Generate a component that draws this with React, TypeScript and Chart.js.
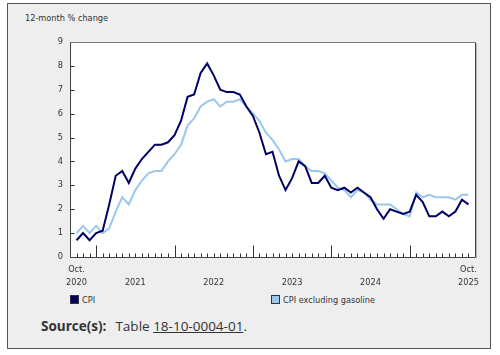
import React, { useEffect, useRef } from 'react';
import { Chart, registerables } from 'chart.js';

Chart.register(...registerables);

// ---- Data ----
const months: string[] = [
  'Oct 2020', 'Nov 2020', 'Dec 2020',
  'Jan 2021', 'Feb 2021', 'Mar 2021', 'Apr 2021', 'May 2021', 'Jun 2021', 'Jul 2021', 'Aug 2021', 'Sep 2021', 'Oct 2021', 'Nov 2021', 'Dec 2021',
  'Jan 2022', 'Feb 2022', 'Mar 2022', 'Apr 2022', 'May 2022', 'Jun 2022', 'Jul 2022', 'Aug 2022', 'Sep 2022', 'Oct 2022', 'Nov 2022', 'Dec 2022',
  'Jan 2023', 'Feb 2023', 'Mar 2023', 'Apr 2023', 'May 2023', 'Jun 2023', 'Jul 2023', 'Aug 2023', 'Sep 2023', 'Oct 2023', 'Nov 2023', 'Dec 2023',
  'Jan 2024', 'Feb 2024', 'Mar 2024', 'Apr 2024', 'May 2024', 'Jun 2024', 'Jul 2024', 'Aug 2024', 'Sep 2024', 'Oct 2024', 'Nov 2024', 'Dec 2024',
  'Jan 2025', 'Feb 2025', 'Mar 2025', 'Apr 2025', 'May 2025', 'Jun 2025', 'Jul 2025', 'Aug 2025', 'Sep 2025', 'Oct 2025',
];

const cpi: number[] = [
  0.7, 1.0, 0.7,
  1.0, 1.1, 2.2, 3.4, 3.6, 3.1, 3.7, 4.1, 4.4, 4.7, 4.7, 4.8,
  5.1, 5.7, 6.7, 6.8, 7.7, 8.1, 7.6, 7.0, 6.9, 6.9, 6.8, 6.3,
  5.9, 5.2, 4.3, 4.4, 3.4, 2.8, 3.3, 4.0, 3.8, 3.1, 3.1, 3.4,
  2.9, 2.8, 2.9, 2.7, 2.9, 2.7, 2.5, 2.0, 1.6, 2.0, 1.9, 1.8,
  1.9, 2.6, 2.3, 1.7, 1.7, 1.9, 1.7, 1.9, 2.4, 2.2,
];

const cpiExGasoline: number[] = [
  1.0, 1.3, 1.0,
  1.3, 1.0, 1.2, 1.9, 2.5, 2.2, 2.8, 3.2, 3.5, 3.6, 3.6, 4.0,
  4.3, 4.7, 5.5, 5.8, 6.3, 6.5, 6.6, 6.3, 6.5, 6.5, 6.6, 6.3,
  6.0, 5.7, 5.2, 4.9, 4.5, 4.0, 4.1, 4.1, 3.8, 3.6, 3.6, 3.5,
  3.2, 2.9, 2.8, 2.5, 2.8, 2.7, 2.4, 2.2, 2.2, 2.2, 2.0, 1.8,
  1.7, 2.7, 2.5, 2.6, 2.5, 2.5, 2.5, 2.4, 2.6, 2.6,
];

const seriesNames: string[] = ['CPI', 'CPI excluding gasoline'];
const seriesColors: string[] = ['#000066', '#99c7ee'];

const yTickValues: number[] = [0, 1, 2, 3, 4, 5, 6, 7, 8, 9];
const xTickIndex: number[] = [0, 9, 21, 33, 45, 60];
const xTickLabels: string[][] = [
  ['Oct.', '2020'],
  ['', '2021'],
  ['', '2022'],
  ['', '2023'],
  ['', '2024'],
  ['Oct.', '2025'],
];

const yTitle = '12-month % change';

const FONT = '"DejaVu Sans", Verdana, sans-serif';
const TEXT = '#333333';

const framePlugin = {
  id: 'frameTicks',
  beforeDraw(chart: any) {
    const { ctx, chartArea: a } = chart;
    ctx.save();
    ctx.fillStyle = '#ffffff';
    ctx.fillRect(a.left, a.top, a.right - a.left, a.bottom - a.top);
    ctx.restore();
  },
  afterDraw(chart: any) {
    const { ctx, chartArea: a, scales } = chart;
    const xs = scales.x;
    const ys = scales.y;
    const L = Math.round(a.left) + 0.5;
    const R = Math.round(a.right) + 0.5;
    const T = Math.round(a.top) + 0.5;
    const B = Math.round(a.bottom) + 0.5;
    ctx.save();
    ctx.lineWidth = 1;
    ctx.strokeStyle = '#333333';
    ctx.beginPath();
    months.forEach((m, i) => {
      const px = Math.round(xs.getPixelForValue(i)) + 0.5;
      const len = m.startsWith('Jan') ? 12 : 4;
      ctx.moveTo(px, B);
      ctx.lineTo(px, B - len);
    });
    yTickValues.forEach((v) => {
      const py = Math.round(ys.getPixelForValue(v)) + 0.5;
      ctx.moveTo(L, py);
      ctx.lineTo(L + 4, py);
    });
    ctx.stroke();
    ctx.strokeStyle = '#7a7a7a';
    ctx.beginPath();
    ctx.moveTo(L, T);
    ctx.lineTo(R, T);
    ctx.stroke();
    ctx.strokeStyle = '#444444';
    ctx.beginPath();
    ctx.moveTo(L, T);
    ctx.lineTo(L, B);
    ctx.lineTo(R, B);
    ctx.lineTo(R, T);
    ctx.stroke();
    ctx.strokeStyle = '#b5b5b5';
    ctx.beginPath();
    ctx.moveTo(R + 1, T + 1);
    ctx.lineTo(R + 1, B + 1);
    ctx.stroke();
    ctx.restore();
  },
};

function ChartCanvas() {
  const ref = useRef<HTMLCanvasElement>(null);
  useEffect(() => {
    if (!ref.current) return;
    const chart = new Chart(ref.current, {
      type: 'line',
      data: {
        datasets: [
          {
            label: seriesNames[0],
            data: cpi.map((v, i) => ({ x: i, y: v })),
            borderColor: seriesColors[0],
            backgroundColor: seriesColors[0],
            borderWidth: 2,
            pointRadius: 0,
            tension: 0,
          },
          {
            label: seriesNames[1],
            data: cpiExGasoline.map((v, i) => ({ x: i, y: v })),
            borderColor: seriesColors[1],
            backgroundColor: seriesColors[1],
            borderWidth: 2,
            pointRadius: 0,
            tension: 0,
          },
        ],
      },
      options: {
        animation: false,
        responsive: false,
        maintainAspectRatio: false,
        devicePixelRatio: 1,
        layout: { padding: { left: 0, right: 15, top: 6, bottom: 0 } },
        plugins: {
          legend: { display: false },
          tooltip: { enabled: false },
          title: { display: false },
        },
        scales: {
          x: {
            type: 'linear',
            min: -1,
            max: months.length,
            grid: { display: false, drawTicks: false },
            border: { display: false },
            afterBuildTicks: (s: any) => {
              s.ticks = xTickIndex.map((v) => ({ value: v }));
            },
            afterFit: (s: any) => {
              s.height = 33;
            },
            ticks: {
              autoSkip: false,
              maxRotation: 0,
              minRotation: 0,
              padding: 6,
              color: TEXT,
              font: { family: FONT, size: 8.2, lineHeight: 1.6 },
              callback: (v: any) => {
                const k = xTickIndex.indexOf(Number(v));
                return k >= 0 ? xTickLabels[k] : '';
              },
            },
          },
          y: {
            min: 0,
            max: 9,
            grid: { display: false, drawTicks: false },
            border: { display: false },
            afterFit: (s: any) => {
              s.width = 62;
            },
            ticks: {
              stepSize: 1,
              padding: 7,
              color: TEXT,
              font: { family: FONT, size: 8.2 },
            },
          },
        },
      },
      plugins: [framePlugin],
    } as any);
    return () => chart.destroy();
  }, []);
  return (
    <canvas
      ref={ref}
      width={482}
      height={260}
      style={{ position: 'absolute', left: 0, top: 26, width: 482, height: 260 }}
    />
  );
}

export default function App() {
  const small: React.CSSProperties = {
    position: 'absolute',
    fontFamily: FONT,
    fontSize: '8.2px',
    lineHeight: '12px',
    color: TEXT,
    whiteSpace: 'nowrap',
  };
  const box = (c: string, left: number): React.CSSProperties => ({
    position: 'absolute',
    left,
    top: 291,
    width: 9,
    height: 9,
    boxSizing: 'border-box',
    border: '1px solid #333',
    background: c,
  });
  return (
    <div
      style={{
        position: 'absolute',
        left: 7,
        top: 3,
        width: 484,
        height: 346,
        boxSizing: 'border-box',
        border: '1px solid #555',
        background: '#eeeeee',
      }}
    >
      <div style={{ ...small, left: 17, top: 8 }}>{yTitle}</div>
      <ChartCanvas />
      <div style={box(seriesColors[0], 62)} />
      <div style={{ ...small, left: 74, top: 290 }}>{seriesNames[0]}</div>
      <div style={box(seriesColors[1], 263)} />
      <div style={{ ...small, left: 275, top: 290 }}>{seriesNames[1]}</div>
      <div
        style={{
          position: 'absolute',
          left: 33,
          top: 313,
          fontFamily: '"Open Sans", "Noto Sans", sans-serif',
          fontSize: '13.5px',
          lineHeight: '18px',
          color: TEXT,
          whiteSpace: 'nowrap',
        }}
      >
        <b>Source(s):</b>
        <span style={{ marginLeft: 9 }}>Table </span>
        <span style={{ textDecoration: 'underline' }}>18-10-0004-01</span>.
      </div>
    </div>
  );
}
